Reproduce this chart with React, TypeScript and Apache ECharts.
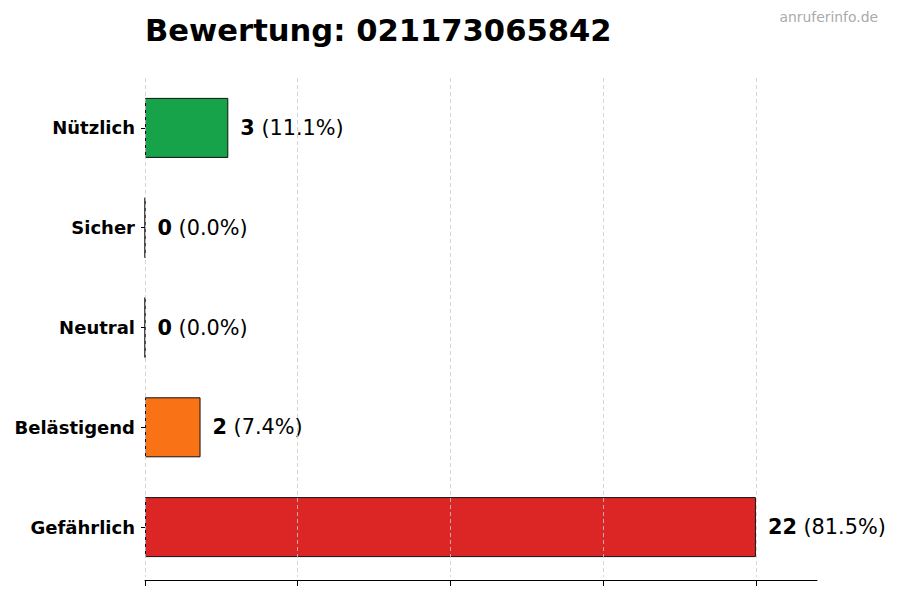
import React, { useEffect, useRef } from 'react';
import * as echarts from 'echarts';

const categories = ['Nützlich', 'Sicher', 'Neutral', 'Belästigend', 'Gefährlich'];
const counts = [3, 0, 0, 2, 22];
const barColors = ['#16a34a', '#16a34a', '#9ca3af', '#f97316', '#dc2626'];
const gridTicks = [0, 5.5, 11, 16.5, 22];
const titleText = 'Bewertung: 021173065842';
const watermark = 'anruferinfo.de';

const FONT = 'DejaVu Sans';

const App: React.FC = () => {
    const chartRef = useRef<HTMLDivElement>(null);

    useEffect(() => {
        if (!chartRef.current) return;
        const chart = echarts.init(chartRef.current, null, { renderer: 'svg' });

        const total = counts.reduce((a, b) => a + b, 0);
        const maxVal = Math.max(...counts);

        const option = {
            animation: false,
            textStyle: { fontFamily: FONT },
            title: {
                text: titleText,
                left: 140,
                top: 10,
                textStyle: { fontFamily: FONT, fontSize: 30.6, fontWeight: 'bold', color: '#000' },
            },
            graphic: [
                {
                    type: 'text',
                    right: 22,
                    top: 10,
                    style: { text: watermark, fontFamily: FONT, fontSize: 13.9, fill: '#aaaaaa' },
                },
            ],
            grid: { left: 145, right: 83, top: 78, bottom: 23 },
            xAxis: {
                type: 'value',
                min: 0,
                max: maxVal * 1.1,
                offset: 3,
                axisLine: { show: true, lineStyle: { color: '#000', width: 1 } },
                axisTick: { show: true, length: 6, customValues: gridTicks, lineStyle: { color: '#000' } },
                axisLabel: { show: false },
                splitLine: { show: false },
            },
            yAxis: {
                type: 'category',
                data: categories,
                inverse: true,
                axisLine: { show: false },
                axisTick: { show: true, length: 4, alignWithLabel: true, lineStyle: { color: '#000' } },
                axisLabel: { margin: 10, fontFamily: FONT, fontSize: 18, fontWeight: 'bold', color: '#000' },
                splitLine: { show: false },
            },
            series: [
                {
                    type: 'bar',
                    barWidth: 60,
                    data: counts.map((v, i) => ({
                        value: v,
                        itemStyle: { color: barColors[i], borderColor: '#111', borderWidth: 1 },
                    })),
                    label: {
                        show: true,
                        position: 'right',
                        distance: 12,
                        formatter: (p: any) => {
                            const pct = total ? ((p.value / total) * 100).toFixed(1) : '0.0';
                            return `{b|${p.value}}{n| (${pct}%)}`;
                        },
                        rich: {
                            b: { fontFamily: FONT, fontSize: 20.8, fontWeight: 'bold', color: '#000' },
                            n: { fontFamily: FONT, fontSize: 20.8, color: '#000' },
                        },
                    },
                    markLine: {
                        silent: true,
                        symbol: 'none',
                        label: { show: false },
                        lineStyle: { color: '#cccccc', type: [4, 3], width: 0.8 },
                        data: gridTicks.map((t) => ({ xAxis: t })),
                    },
                },
            ],
        };

        chart.setOption(option);
        return () => {
            chart.dispose();
        };
    }, []);

    return <div ref={chartRef} style={{ width: 900, height: 600, margin: -8 }} />;
};

export default App;
